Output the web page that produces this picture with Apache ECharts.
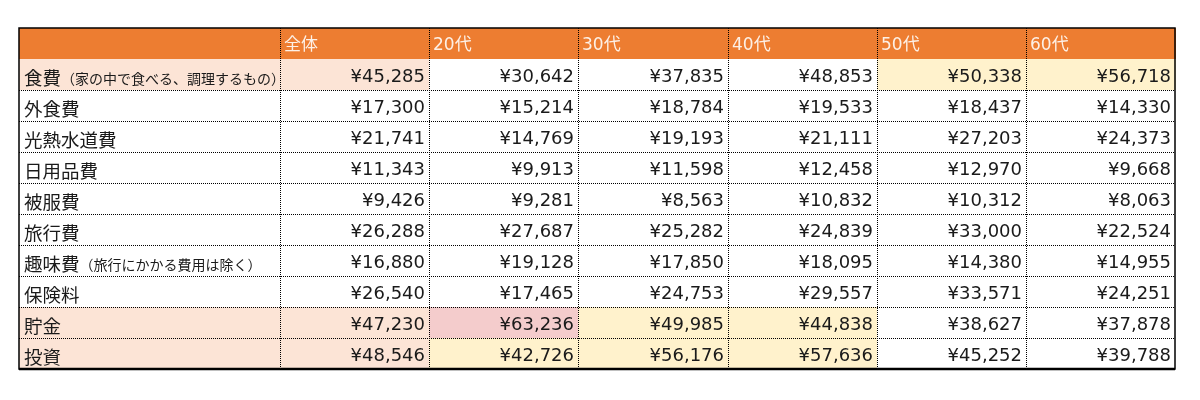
<!DOCTYPE html>
<html>
<head>
<meta charset="utf-8">
<script src="https://cdn.jsdelivr.net/npm/echarts@6/dist/echarts.min.js"></script>
<style>
  html, body { margin: 0; padding: 0; background: #fff; }
  #chart { width: 1200px; height: 400px; }
</style>
</head>
<body>
<div id="chart"></div>
<script>
// row labels and their small notes
const items = ['食費', '外食費', '光熱水道費', '日用品費', '被服費', '旅行費', '趣味費', '保険料', '貯金', '投資'];
const notes = ['（家の中で食べる、調理するもの）', '', '', '', '', '', '（旅行にかかる費用は除く）', '', '', ''];
const ages = ['全体', '20代', '30代', '40代', '50代', '60代'];

// monthly amounts (yen) per column
const all   = [45285, 17300, 21741, 11343, 9426, 26288, 16880, 26540, 47230, 48546];
const age20 = [30642, 15214, 14769, 9913, 9281, 27687, 19128, 17465, 63236, 42726];
const age30 = [37835, 18784, 19193, 11598, 8563, 25282, 17850, 24753, 49985, 56176];
const age40 = [48853, 19533, 21111, 12458, 10832, 24839, 18095, 29557, 44838, 57636];
const age50 = [50338, 18437, 27203, 12970, 10312, 33000, 14380, 33571, 38627, 45252];
const age60 = [56718, 14330, 24373, 9668, 8063, 22524, 14955, 24251, 37878, 39788];

// highlighted cells
const focusItems = ['食費', '貯金', '投資'];
const yellowCells = [['食費', '50代'], ['食費', '60代'], ['貯金', '30代'], ['貯金', '40代'],
  ['投資', '20代'], ['投資', '30代'], ['投資', '40代']];
const pinkCells = [['貯金', '20代']];

const columns = [all, age20, age30, age40, age50, age60];
const colUnits = [1.75, 1, 1, 1, 1, 1, 1];
const colStart = colUnits.map((w, i) => colUnits.slice(0, i).reduce((a, b) => a + b, 0));
const totalUnits = colUnits.reduce((a, b) => a + b, 0);

const COLORS = {
  header: '#ED7D31', headerText: '#FDF0E6', peach: '#FCE4D6',
  yellow: '#FFF2CC', pink: '#F4CCCC', white: '#FFFFFF', text: '#1a1a1a'
};
const FONT = '"DejaVu Sans", "Noto Sans CJK JP", sans-serif';
const JP_FONT = '"Noto Sans CJK JP", sans-serif';

const has = (list, item, age) => list.some(([i, a]) => i === item && a === age);
const yen = v => '¥' + v.toLocaleString('en-US');

// build the cells
const cells = [];
cells.push({c: 0, r: 0, kind: 'header', text: '', fill: COLORS.header});
ages.forEach((a, i) => cells.push({c: i + 1, r: 0, kind: 'header', text: a, fill: COLORS.header}));
items.forEach((item, ri) => {
  const focus = focusItems.includes(item);
  cells.push({c: 0, r: ri + 1, kind: 'label', text: item, note: notes[ri],
    fill: focus ? COLORS.peach : COLORS.white});
  columns.forEach((col, ci) => {
    const age = ages[ci];
    let fill = COLORS.white;
    if (ci === 0 && focus) fill = COLORS.peach;
    if (has(yellowCells, item, age)) fill = COLORS.yellow;
    if (has(pinkCells, item, age)) fill = COLORS.pink;
    cells.push({c: ci + 1, r: ri + 1, kind: 'value', text: yen(col[ri]), fill});
  });
});

const nRows = items.length + 1;

function renderCell(params, api) {
  const cell = cells[params.dataIndex];
  const p0 = api.coord([colStart[cell.c], cell.r]);
  const p1 = api.coord([colStart[cell.c] + colUnits[cell.c], cell.r + 1]);
  const x0 = Math.round(p0[0]), y0 = Math.round(p0[1]);
  const x1 = Math.round(p1[0]), y1 = Math.round(p1[1]);
  const cy = (y0 + y1) / 2;
  const children = [{
    type: 'rect', shape: {x: x0, y: y0, width: x1 - x0 + 1, height: y1 - y0 + 1},
    style: {fill: cell.fill}
  }];
  if (cell.kind === 'header') {
    children.push({type: 'text', style: {
      x: x0 + 4, y: cy + 2, text: cell.text, fill: COLORS.headerText,
      font: '17px ' + FONT, align: 'left', verticalAlign: 'middle'
    }});
  } else if (cell.kind === 'label') {
    children.push({type: 'text', style: {
      x: x0 + 5, y: cy + 3, align: 'left', verticalAlign: 'middle',
      text: '{a|' + cell.text + '}' + (cell.note ? '{b|' + cell.note + '}' : ''),
      rich: {
        a: {fontSize: 18.5, fontFamily: JP_FONT, fill: COLORS.text},
        b: {fontSize: 14, fontFamily: JP_FONT, fill: COLORS.text, padding: [3, 0, 0, 0]}
      }
    }});
  } else {
    children.push({type: 'text', style: {
      x: x1 - 4, y: cy + 3, text: cell.text, fill: COLORS.text,
      font: '18px ' + FONT, align: 'right', verticalAlign: 'middle'
    }});
  }
  return {type: 'group', children};
}

// dotted cell borders and the solid outer frame, drawn above the cells
function renderFrame(params, api) {
  const p0 = api.coord([0, 0]);
  const p1 = api.coord([totalUnits, nRows]);
  const x0 = Math.round(p0[0]), y0 = Math.round(p0[1]);
  const x1 = Math.round(p1[0]), y1 = Math.round(p1[1]);
  const dotted = {stroke: '#000', lineWidth: 1, lineDash: [1, 1]};
  const children = [];
  colStart.slice(1).forEach(u => {
    const x = Math.round(api.coord([u, 0])[0]) + 0.5;
    children.push({type: 'line', shape: {x1: x, y1: y0, x2: x, y2: y1}, style: dotted});
  });
  for (let r = 2; r < nRows; r++) {
    const y = Math.round(api.coord([0, r])[1]) + 0.5;
    children.push({type: 'line', shape: {x1: x0, y1: y, x2: x1, y2: y}, style: dotted});
  }
  children.push(
    {type: 'rect', shape: {x: x0, y: y0, width: x1 - x0, height: y1 - y0},
      style: {fill: null, stroke: '#000', lineWidth: 1.5}},
    {type: 'line', shape: {x1: x0, y1: y1, x2: x1, y2: y1},
      style: {stroke: '#000', lineWidth: 2.5}}
  );
  return {type: 'group', children};
}

const chart = echarts.init(document.getElementById('chart'), null, {renderer: 'canvas'});
chart.setOption({
  animation: false,
  backgroundColor: '#fff',
  grid: {left: 19, right: 25, top: 28, bottom: 31},
  xAxis: {type: 'value', min: 0, max: totalUnits, show: false},
  yAxis: {type: 'value', min: 0, max: nRows, inverse: true, show: false},
  series: [
    {type: 'custom', renderItem: renderCell, data: cells.map((c, i) => [i]), z: 2},
    {type: 'custom', renderItem: renderFrame, data: [[0]], z: 3}
  ]
});
</script>
</body>
</html>
